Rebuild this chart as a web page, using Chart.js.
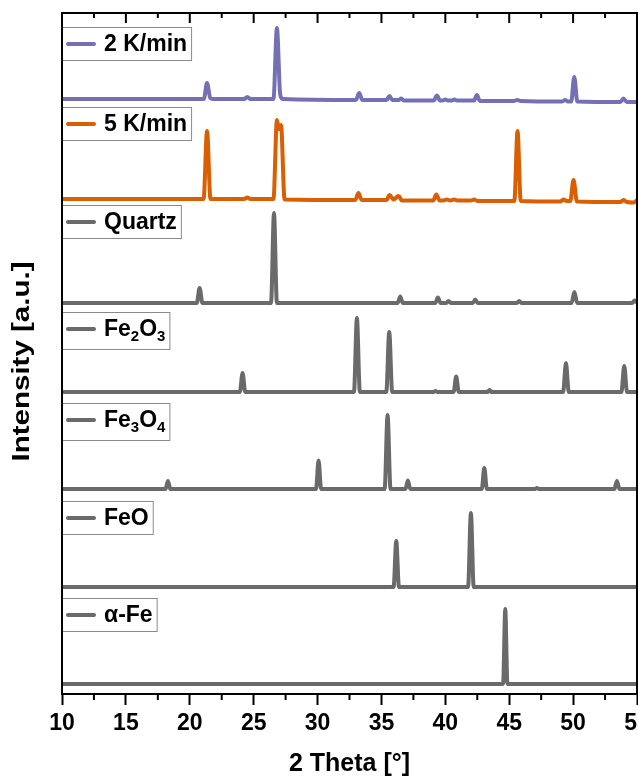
<!DOCTYPE html>
<html><head><meta charset="utf-8">
<script src="https://cdn.jsdelivr.net/npm/chart.js@4.4.1/dist/chart.umd.min.js"></script>
<style>html,body{margin:0;padding:0;background:#fff;overflow:hidden}</style>
</head><body>
<canvas id="c" width="638" height="782" style="display:block;width:638px;height:782px"></canvas>
<script>
// ---------- data (2 Theta [deg], relative intensity) ----------
const seriesLabels = ['2 K/min', '5 K/min', 'Quartz', 'Fe_2O_3', 'Fe_3O_4', 'FeO', 'α-Fe'];
const seriesOffsets = [595, 495, 391, 302, 205, 107, 10];

const rate2K = [[10,0],[21.1,0],[21.35,16],[21.6,1],[21.8,0],
  [24.25,0],[24.5,2],[24.75,0],
  [26.55,0],[26.82,71],[27.08,4],[27.3,0],
  [33.0,-1],[33.26,6],[33.5,-1],
  [35.4,-1],[35.63,3],[35.85,-1],
  [36.35,-1],[36.55,0.5],[36.75,-1.5],
  [39.1,-1.5],[39.34,3.5],[39.58,-1.5],
  [39.8,-1.5],[40.0,-0.5],[40.2,-1.5],
  [40.5,-1.5],[40.7,-0.5],[40.9,-1.5],
  [42.25,-1.5],[42.47,4],[42.7,-2],
  [45.35,-2],[45.63,-1],[45.9,-2],
  [49.15,-2.5],[49.38,-1],[49.6,-2.5],
  [49.85,-2.5],[50.09,22],[50.33,-2.5],
  [53.7,-3],[53.94,0.5],[54.2,-3],
  [55,-3]];

const rate5K = [[10,0],[21.08,0],[21.35,68],[21.62,0],
  [24.25,0],[24.5,1.5],[24.75,0],
  [26.55,0],[26.82,79],[26.97,70],[27.14,74],[27.42,-0.5],
  [32.95,-1],[33.2,6],[33.45,-1],
  [35.4,-1],[35.63,4],[35.95,-0.5],[36.34,3],[36.6,-1.5],
  [39.05,-1.5],[39.29,4.5],[39.55,-1.5],
  [39.85,-1.5],[40.1,-0.5],[40.4,-1.5],[40.7,-0.5],[40.95,-1.5],
  [42.0,-1.5],[42.26,-0.5],[42.5,-2],
  [45.4,-2],[45.65,68],[45.9,-2],
  [49.0,-2.5],[49.25,-0.5],[49.5,-2],[49.78,-2],[50.03,19],[50.3,-2.5],
  [53.7,-3],[53.94,-1],[54.2,-3],[54.75,-3.5],[55,-1]];

const quartz = [[10,0],[20.55,0],[20.77,15],[20.99,0],
  [26.36,0],[26.59,90],[26.82,0],
  [36.27,0],[36.47,6.5],[36.67,0],
  [39.22,0],[39.42,5.5],[39.62,0],
  [40.07,0],[40.25,2],[40.43,0],
  [42.15,0],[42.34,3.5],[42.53,0],
  [45.6,0],[45.78,2],[45.96,0],
  [49.88,0],[50.1,11],[50.32,0],
  [54.62,0],[54.82,2.5],[55,0.5]];

const hematite = [[10,0],[23.92,0],[24.13,19],[24.34,0],
  [32.85,0],[33.08,74],[33.31,0],
  [35.38,0],[35.61,60],[35.84,0],
  [39.07,0],[39.23,1],[39.39,0],
  [40.65,0],[40.85,15.5],[41.05,0],
  [43.3,0],[43.46,2],[43.62,0],
  [49.22,0],[49.44,29],[49.66,0],
  [53.78,0],[54.0,26],[54.22,0],
  [55,0]];

const magnetite = [[10,0],[18.1,0],[18.29,8],[18.48,0],
  [29.88,0],[30.08,28.5],[30.28,0],
  [35.25,0],[35.48,74],[35.71,0],
  [36.88,0],[37.07,8.5],[37.26,0],
  [42.85,0],[43.05,21],[43.25,0],
  [47.02,0],[47.17,1],[47.32,0],
  [53.23,0],[53.43,8],[53.63,0],
  [55,0]];

const wuestite = [[10,0],[35.95,0],[36.16,46],[36.37,0],[41.78,0],[42.0,74],[42.22,0],[55,0]];

const alphaFe = [[10,0],[44.52,0],[44.69,75],[44.86,0],[55,0]];

const seriesValues = [rate2K, rate5K, quartz, hematite, magnetite, wuestite, alphaFe];

const majorTicks = [10, 15, 20, 25, 30, 35, 40, 45, 50, 55];
const minorTicks = [12.5, 17.5, 22.5, 27.5, 32.5, 37.5, 42.5, 47.5, 52.5];
const xTitle = '2 Theta [°]';
const yTitle = 'Intensity [a.u.]';

// ---------- styles ----------
const FONT = "'Liberation Sans', Arial, Helvetica, sans-serif";
const seriesColors = ['#7570b3', '#d95f02', '#6a6a6a', '#6a6a6a', '#6a6a6a', '#6a6a6a', '#6a6a6a'];
const legendTops = [27, 107, 205, 312, 403, 501, 598];

const datasets = seriesValues.map((arr, i) => ({
  label: seriesLabels[i],
  data: arr.map(p => ({x: p[0], y: seriesOffsets[i] + p[1]})),
  borderColor: seriesColors[i],
  backgroundColor: seriesColors[i],
  borderWidth: 4,
  pointRadius: 0,
  fill: false,
  cubicInterpolationMode: 'monotone',
  borderJoinStyle: 'round',
  borderCapStyle: 'round'
}));

function drawRich(ctx, label, x, y, measureOnly) {
  const big = 'bold 23px ' + FONT, small = 'bold 15px ' + FONT;
  let cx = x;
  for (let k = 0; k < label.length; k++) {
    let ch = label[k], sub = false;
    if (ch === '_' && k + 1 < label.length) { sub = true; ch = label[++k]; }
    ctx.font = sub ? small : big;
    if (!measureOnly) ctx.fillText(ch, cx, sub ? y + 7 : y);
    cx += ctx.measureText(ch).width;
  }
  return cx - x;
}

const panelLegend = {
  id: 'panelLegend',
  afterDatasetsDraw(chart) {
    const ctx = chart.ctx, a = chart.chartArea;
    ctx.save();
    chart.data.datasets.forEach((ds, i) => {
      const lab = seriesLabels[i];
      const hasSub = lab.indexOf('_') >= 0;
      const top = legendTops[i];
      const h = hasSub ? 38 : 34;
      const cy = top + 17;
      ctx.textBaseline = 'middle';
      const tw = drawRich(ctx, lab, 0, 0, true);
      const left = a.left, right = 104 + tw + 5;
      ctx.fillStyle = '#fff';
      ctx.fillRect(left, top, right - left, h);
      ctx.strokeStyle = '#8a8a8a';
      ctx.lineWidth = 1;
      ctx.strokeRect(left + 0.5, top + 0.5, right - left - 1, h - 1);
      ctx.strokeStyle = ds.borderColor;
      ctx.lineWidth = 4;
      ctx.lineCap = 'round';
      ctx.beginPath(); ctx.moveTo(68, cy); ctx.lineTo(94, cy); ctx.stroke();
      ctx.fillStyle = '#000';
      ctx.textAlign = 'left';
      drawRich(ctx, lab, 104, cy + 1, false);
    });
    ctx.restore();
  },
  afterDraw(chart) {
    const ctx = chart.ctx, a = chart.chartArea, x = chart.scales.x;
    ctx.save();
    ctx.strokeStyle = '#000';
    ctx.lineWidth = 2;
    ctx.lineCap = 'butt';
    ctx.strokeRect(a.left, a.top, a.right - a.left, a.bottom - a.top);
    ctx.beginPath();
    minorTicks.forEach(v => {
      const px = x.getPixelForValue(v);
      ctx.moveTo(px, a.bottom); ctx.lineTo(px, a.bottom + 6);
      ctx.moveTo(px, a.top); ctx.lineTo(px, a.top + 5);
    });
    majorTicks.forEach(v => {
      const px = x.getPixelForValue(v);
      ctx.moveTo(px, a.top); ctx.lineTo(px, a.top + 10);
    });
    ctx.stroke();
    // y-axis title (stretched along its length, as in the reference)
    ctx.font = 'bold 23px ' + FONT;
    const w = ctx.measureText(yTitle).width;
    const sx = 200 / w;
    ctx.translate(23, (a.top + a.bottom) / 2 + 8);
    ctx.rotate(-Math.PI / 2);
    ctx.scale(sx, 1);
    ctx.fillStyle = '#000';
    ctx.textAlign = 'center';
    ctx.textBaseline = 'middle';
    ctx.fillText(yTitle, 0, 0);
    ctx.restore();
  }
};

new Chart(document.getElementById('c'), {
  type: 'line',
  data: { datasets },
  plugins: [panelLegend],
  options: {
    responsive: false,
    animation: false,
    devicePixelRatio: 1,
    layout: { padding: { top: 13, right: 1, left: 0, bottom: 0 } },
    plugins: { legend: { display: false }, tooltip: { enabled: false } },
    scales: {
      x: {
        type: 'linear', min: 10, max: 55,
        afterBuildTicks(s) { s.ticks = majorTicks.map(v => ({ value: v })); },
        ticks: { color: '#000', font: { family: FONT, size: 23, weight: 'bold' }, padding: 5, maxRotation: 0, autoSkip: false },
        grid: { display: true, drawOnChartArea: false, drawTicks: true, tickLength: 11, tickWidth: 2, tickColor: '#000' },
        border: { display: false },
        title: { display: true, text: xTitle, color: '#000', font: { family: FONT, size: 25, weight: 'bold' }, padding: { top: 0, bottom: 3 } },
        afterFit(s) { s.height = 88; s.paddingLeft = 0; s.paddingRight = 0; }
      },
      y: {
        type: 'linear', min: 0, max: 681,
        ticks: { display: false },
        grid: { display: false },
        border: { display: false },
        title: { display: false },
        afterFit(s) { s.width = 62; }
      }
    }
  }
});
</script>
</body></html>
